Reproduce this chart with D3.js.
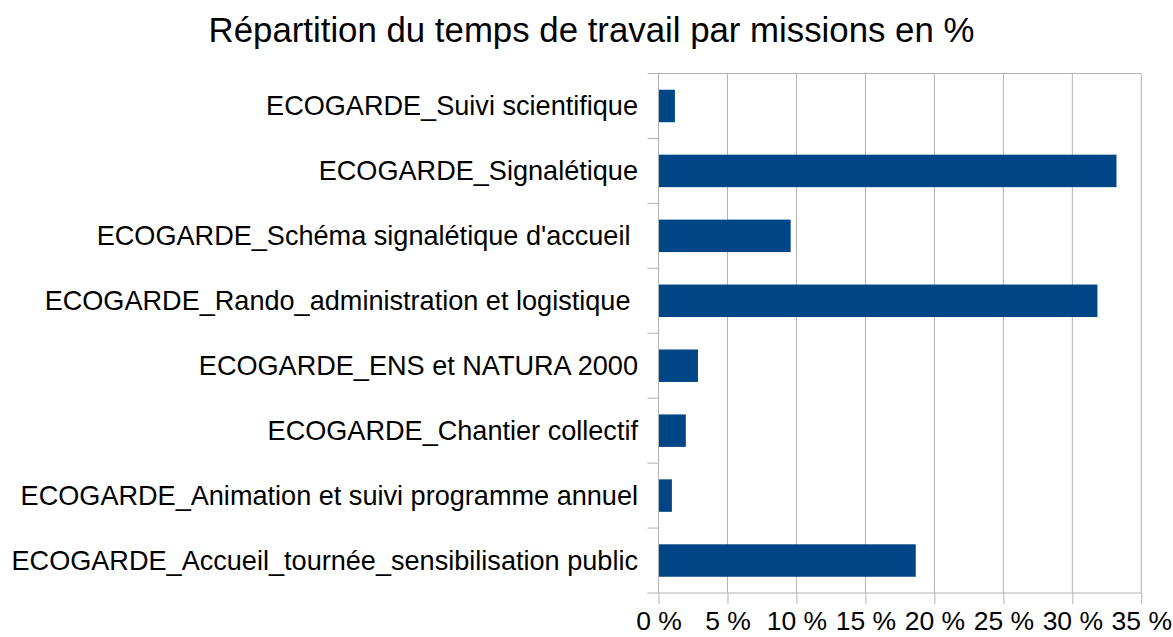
<!DOCTYPE html>
<html>
<head>
<meta charset="utf-8">
<script src="https://cdn.jsdelivr.net/npm/d3@7"></script>
<style>
  body { margin: 0; background: #fff; }
  text { font-family: "Liberation Sans", Arial, sans-serif; fill: #000; white-space: pre; }
</style>
</head>
<body>
<svg width="1173" height="637"></svg>
<script>
var svg = d3.select("svg"),
    width = +svg.attr("width"),
    height = +svg.attr("height");

// categories, bottom to top as in the sheet
var missions = [
  "ECOGARDE_Accueil_tournée_sensibilisation public",
  "ECOGARDE_Animation et suivi programme annuel",
  "ECOGARDE_Chantier collectif",
  "ECOGARDE_ENS et NATURA 2000",
  "ECOGARDE_Rando_administration et logistique ",
  "ECOGARDE_Schéma signalétique d'accueil ",
  "ECOGARDE_Signalétique",
  "ECOGARDE_Suivi scientifique"
];
var percents = [18.65, 0.97, 1.98, 2.86, 31.82, 9.58, 33.2, 1.19];
var tickValues = [0, 5, 10, 15, 20, 25, 30, 35];

var plotLeft = 658.5, plotRight = 1141.3, plotTop = 73.5, plotBottom = 593;

var x = d3.scaleLinear()
    .domain([0, 35])
    .range([plotLeft, plotRight]);

var y = d3.scaleBand()
    .domain(missions.slice().reverse())
    .range([plotTop, plotBottom])
    .paddingInner(0.5)
    .paddingOuter(0.25);

svg.append("text")
    .attr("x", 591.5)
    .attr("y", 42)
    .attr("text-anchor", "middle")
    .attr("font-size", "34.8px")
    .text("Répartition du temps de travail par missions en %");

// vertical grid
svg.append("g")
    .selectAll("line")
    .data(tickValues).enter()
    .append("line")
    .attr("x1", function(d) { return x(d); })
    .attr("x2", function(d) { return x(d); })
    .attr("y1", plotTop)
    .attr("y2", plotBottom)
    .attr("stroke", "#b3b3b3");

// top border
svg.append("line")
    .attr("x1", plotLeft - 11).attr("x2", plotRight)
    .attr("y1", plotTop).attr("y2", plotTop)
    .attr("stroke", "#b3b3b3");

// bars
svg.append("g")
    .selectAll("rect")
    .data(missions).enter()
    .append("rect")
    .attr("x", x(0))
    .attr("y", function(d) { return y(d); })
    .attr("width", function(d, i) { return x(percents[i]) - x(0); })
    .attr("height", y.bandwidth())
    .attr("fill", "#004586");

// x axis
var xAxis = svg.append("g")
    .attr("transform", "translate(0," + plotBottom + ")")
    .call(d3.axisBottom(x)
      .tickValues(tickValues)
      .tickSize(11)
      .tickPadding(7)
      .tickFormat(function(d) { return d + " %"; }));
xAxis.select(".domain").remove();
xAxis.selectAll(".tick line").attr("stroke", "#b3b3b3");
xAxis.selectAll("text").attr("font-size", "26.5px").attr("font-family", null);
xAxis.append("line")
    .attr("x1", plotLeft - 11).attr("x2", plotRight)
    .attr("y1", 0).attr("y2", 0)
    .attr("stroke", "#b3b3b3");

// y axis: ticks on category boundaries
var yAxis = svg.append("g");
yAxis.append("line")
    .attr("x1", plotLeft).attr("x2", plotLeft)
    .attr("y1", plotTop).attr("y2", plotBottom)
    .attr("stroke", "#b3b3b3");
yAxis.selectAll(".bound")
    .data(d3.range(1, missions.length)).enter()
    .append("line")
    .attr("x1", plotLeft - 11).attr("x2", plotLeft)
    .attr("y1", function(i) { return plotTop + i * y.step(); })
    .attr("y2", function(i) { return plotTop + i * y.step(); })
    .attr("stroke", "#b3b3b3");
yAxis.selectAll("text")
    .data(missions).enter()
    .append("text")
    .attr("x", plotLeft - 20.5)
    .attr("y", function(d) { return y(d) + y.bandwidth() / 2; })
    .attr("dy", "0.35em")
    .attr("text-anchor", "end")
    .attr("font-size", "27.1px")
    .text(function(d) { return d; });
</script>
</body>
</html>
